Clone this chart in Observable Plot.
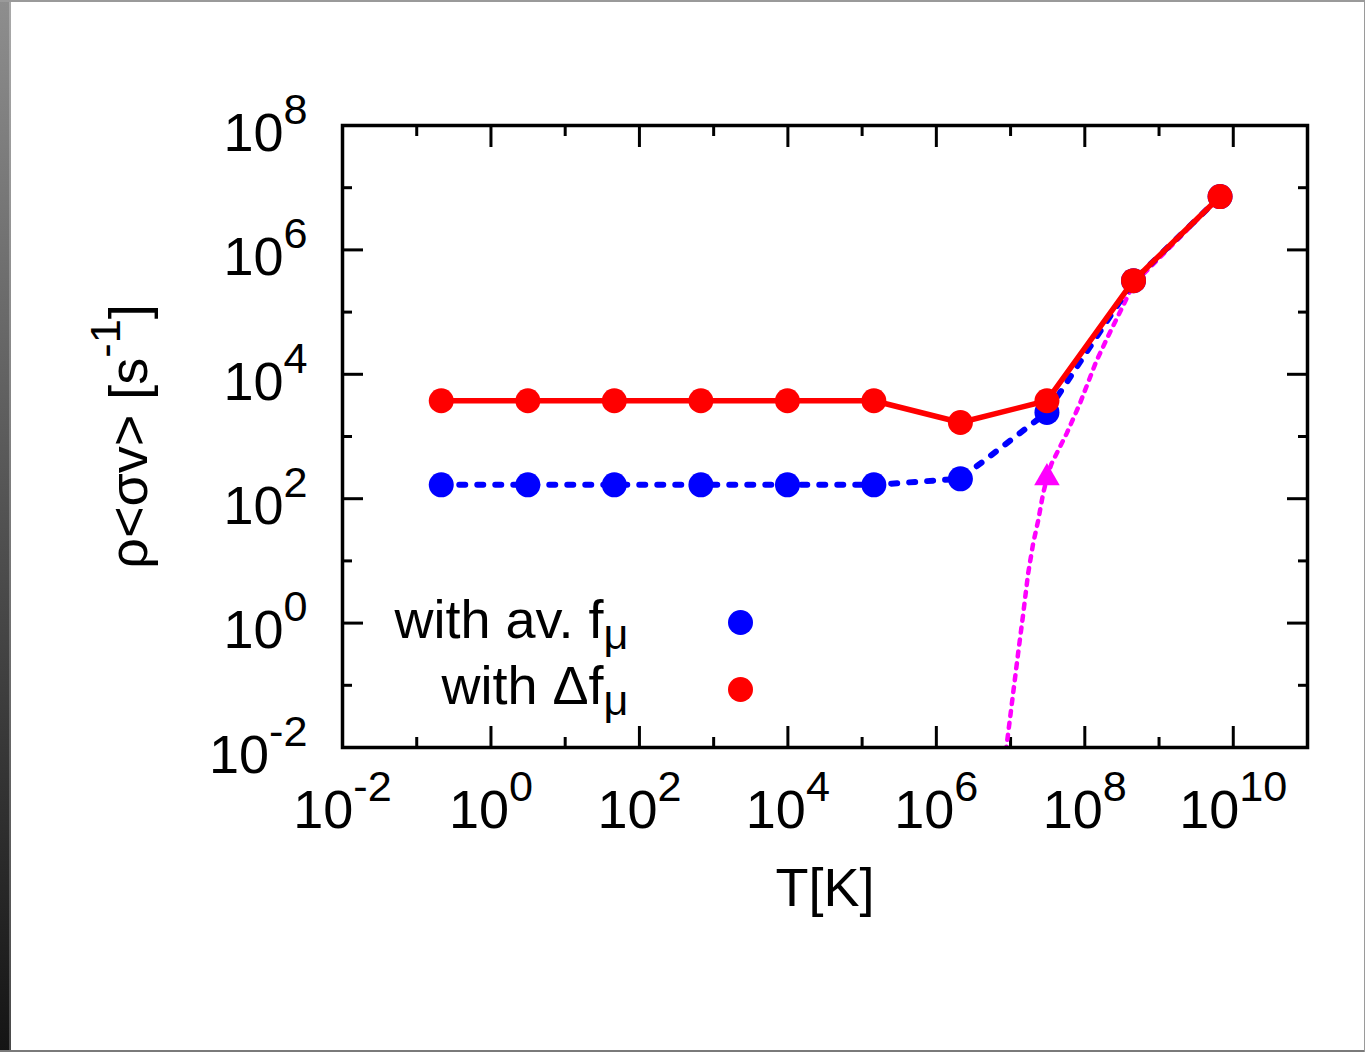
<!DOCTYPE html>
<html>
<head>
<meta charset="utf-8">
<script src="https://cdn.jsdelivr.net/npm/d3@7"></script>
<script src="https://cdn.jsdelivr.net/npm/@observablehq/plot@0.6"></script>
<style>
  html, body { margin: 0; padding: 0; background: #fff; }
  #wrap { position: relative; width: 1365px; height: 1052px; background: #fff; overflow: hidden; }
  #wrap svg { position: absolute; left: 0; top: 0; }
  .edge { position: absolute; }
</style>
</head>
<body>
<div id="wrap">
  <div class="edge" style="left:0;top:0;width:9px;height:1052px;background:linear-gradient(#8e8e8e,#141414);"></div>
  <div class="edge" style="left:9px;top:0;width:2px;height:1052px;background:linear-gradient(#a9a9a9,#4a4a4a);"></div>
  <div class="edge" style="left:0;top:0;width:1365px;height:2px;background:#9a9a9a;"></div>
  <div class="edge" style="left:0;top:1050px;width:1365px;height:2px;background:#7a7a7a;"></div>
  <div class="edge" style="left:1364px;top:0;width:1px;height:1052px;background:#9a9a9a;"></div>
</div>
<script>
// ---- data ----
const temperature = [0.214, 3.14, 45.9, 673, 9860, 1.44e5, 2.11e6, 3.09e7, 4.53e8, 6.64e9];
const rateAvF     = [167, 167, 167, 167, 167, 167, 209, 2440, 3.2e5, 7.2e6];
const rateDeltaF  = [3760, 3760, 3760, 3760, 3760, 3760, 1680, 3760, 3.2e5, 7.2e6];

const magentaT    = [6.73e6, 8.83e6, 1.08e7, 1.26e7, 1.48e7, 1.72e7, 2.01e7, 2.35e7, 2.74e7, 3.09e7,
                     3.56e7, 5.68e7, 8.57e7, 1.44e8, 2.17e8, 3.28e8, 4.53e8, 6.64e9];
const magentaRate = [9.5e-4, 0.0106, 0.0726, 0.319, 1.41, 6.19, 18.8, 44.1, 120, 217,
                     365, 1110, 3370, 1.66e4, 4.67e4, 1.27e5, 2.82e5, 7.21e6];
const magentaMarkT    = [3.09e7];
const magentaMarkRate = [217];

const xMajorExp = [-2, 0, 2, 4, 6, 8, 10];
const xMinorExp = [-1, 1, 3, 5, 7, 9, 11];
const yMajorExp = [-2, 0, 2, 4, 6, 8];
const yMinorExp = [-1, 1, 3, 5, 7];

const legendLabels = ["with av. f_{μ}", "with Δf_{μ}"];
const xLabel = "T[K]";
const yLabel = "ρ<σv> [s^{-1}]";

// ---- tables ----
const blue = temperature.map((t, i) => ({t, r: rateAvF[i]}));
const red = temperature.map((t, i) => ({t, r: rateDeltaF[i]}));
const magenta = magentaT.map((t, i) => ({t, r: magentaRate[i]}));
const magentaMark = magentaMarkT.map((t, i) => ({t, r: magentaMarkRate[i]}));
const xMajor = xMajorExp.map(e => 10 ** e);
const xMinor = xMinorExp.map(e => 10 ** e);
const yMajor = yMajorExp.map(e => 10 ** e);
const yMinor = yMinorExp.map(e => 10 ** e);
const fmt = d => "10^{" + Math.round(Math.log10(d)) + "}";

const BLUE = "#0000ff", RED = "#ff0000", MAG = "#ff00ff";
const tickOpts = {strokeWidth: 3, fill: "none", tickFormat: () => "", label: null};

const chart = Plot.plot({
  width: 1365,
  height: 1052,
  marginLeft: 342,
  marginRight: 58,
  marginTop: 125,
  marginBottom: 305,
  style: {fontFamily: "'Liberation Sans', Arial, sans-serif", fontSize: "54px", background: "transparent", color: "black"},
  x: {type: "log", domain: [1e-2, 1e11]},
  y: {type: "log", domain: [1e-2, 1e8]},
  marks: [
    // ticks on all four sides, pointing inward
    Plot.axisX(xMajor, {anchor: "bottom", tickSize: -21, ...tickOpts}),
    Plot.axisX(xMinor, {anchor: "bottom", tickSize: -10, ...tickOpts}),
    Plot.axisX(xMajor, {anchor: "top", tickSize: -21, ...tickOpts}),
    Plot.axisX(xMinor, {anchor: "top", tickSize: -10, ...tickOpts}),
    Plot.axisY(yMajor, {anchor: "left", tickSize: -21, ...tickOpts}),
    Plot.axisY(yMinor, {anchor: "left", tickSize: -10, ...tickOpts}),
    Plot.axisY(yMajor, {anchor: "right", tickSize: -21, ...tickOpts}),
    Plot.axisY(yMinor, {anchor: "right", tickSize: -10, ...tickOpts}),
    // tick labels
    Plot.axisX(xMajor, {anchor: "bottom", tickSize: 0, tickPadding: 42, tickFormat: fmt, label: null}),
    Plot.axisY(yMajor, {anchor: "left", tickSize: 0, tickPadding: 35, tickFormat: fmt, dy: 8, label: null}),
    // axis titles
    Plot.text([xLabel], {frameAnchor: "bottom", textAnchor: "middle", lineAnchor: "middle", dy: 141, text: d => d}),
    Plot.text([yLabel], {frameAnchor: "left", textAnchor: "middle", lineAnchor: "middle", rotate: -90, dx: -213, text: d => d}),
    // data
    Plot.line(magenta, {x: "t", y: "r", stroke: MAG, strokeWidth: 4.5, strokeDasharray: "5,7", clip: true}),
    Plot.line(blue, {x: "t", y: "r", stroke: BLUE, strokeWidth: 6, strokeDasharray: "6,12", clip: true}),
    Plot.dot(blue, {x: "t", y: "r", fill: BLUE, r: 12.5, clip: true}),
    Plot.line(red, {x: "t", y: "r", stroke: RED, strokeWidth: 5.5, clip: true}),
    Plot.dot(red, {x: "t", y: "r", fill: RED, r: 12.5, clip: true}),
    Plot.dot(magentaMark, {x: "t", y: "r", fill: MAG, symbol: "triangle", r: 9.5, clip: true}),
    // legend
    Plot.text([legendLabels[0]], {frameAnchor: "top-left", textAnchor: "end", lineAnchor: "middle", dx: 286, dy: 495, text: d => d}),
    Plot.text([legendLabels[1]], {frameAnchor: "top-left", textAnchor: "end", lineAnchor: "middle", dx: 286, dy: 561, text: d => d}),
    Plot.dot([legendLabels[0]], {frameAnchor: "top-left", dx: 398, dy: 497, fill: BLUE, r: 12.5}),
    Plot.dot([legendLabels[1]], {frameAnchor: "top-left", dx: 398, dy: 564, fill: RED, r: 12.5}),
    Plot.frame({stroke: "black", strokeWidth: 3.5})
  ]
});

// enhanced-text: ^{...} superscript, _{...} subscript
function richify(svg) {
  const ns = "http://www.w3.org/2000/svg";
  svg.querySelectorAll("text").forEach(t => {
    const s = t.textContent;
    if (!/[\^_]\{/.test(s)) return;
    while (t.firstChild) t.removeChild(t.firstChild);
    const re = /([\^_])\{([^}]*)\}/g;
    let last = 0, cur = 0, m;
    const add = (txt, dy, small) => {
      const ts = document.createElementNS(ns, "tspan");
      if (dy) ts.setAttribute("dy", dy);
      if (small) ts.setAttribute("font-size", "0.8em");
      ts.textContent = txt;
      t.appendChild(ts);
    };
    while ((m = re.exec(s))) {
      if (m.index > last) { add(s.slice(last, m.index), -cur, false); cur = 0; }
      const target = m[1] === "^" ? -27 : 11;
      add(m[2], target - cur, true);
      cur = target;
      last = re.lastIndex;
    }
    if (last < s.length) add(s.slice(last), -cur, false);
  });
}
richify(chart);
document.getElementById("wrap").appendChild(chart);
</script>
</body>
</html>
